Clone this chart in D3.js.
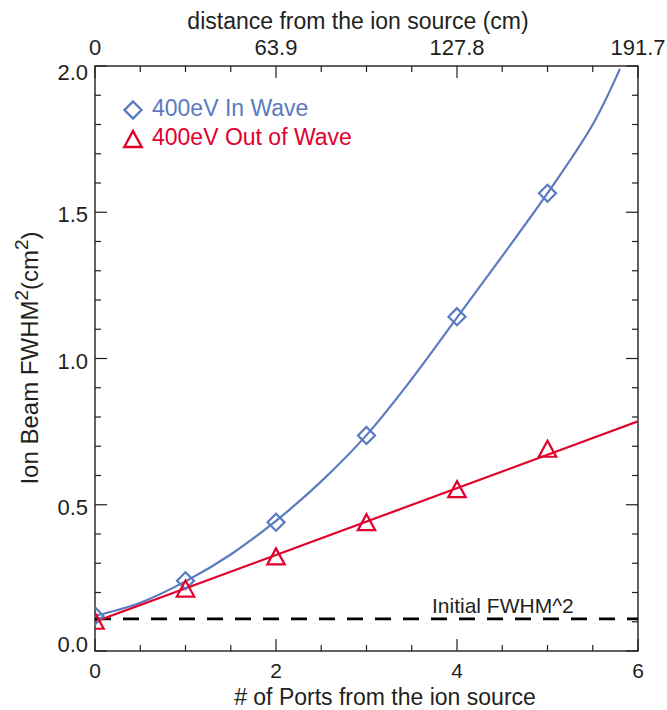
<!DOCTYPE html>
<html><head><meta charset="utf-8">
<script src="https://cdn.jsdelivr.net/npm/d3@7"></script>
<style>body{margin:0;background:#fff}text{font-family:"Liberation Sans",Arial,sans-serif;fill:#231f20}</style>
</head><body><svg id="c" width="667" height="710"></svg>
<script>
const ports = [0, 1, 2, 3, 4, 5];
const inWave = [0.12, 0.24, 0.44, 0.737, 1.143, 1.565];
const outWave = [0.10, 0.21, 0.32, 0.437, 0.55, 0.688];
const fitInX = [0, 0.5, 1, 1.5, 2, 2.5, 3, 3.5, 4, 4.5, 5, 5.5, 5.8];
const fitInY = [0.12, 0.165, 0.238, 0.33, 0.445, 0.58, 0.738, 0.93, 1.14, 1.35, 1.565, 1.8, 1.99];
const fitOutX = [0, 6];
const fitOutY = [0.10, 0.785];
const initial = 0.11;
const bottomTicks = [0, 2, 4, 6];
const topTickLabels = ["0", "63.9", "127.8", "191.7"];
const yTicks = [0.0, 0.5, 1.0, 1.5, 2.0];
const blue = "#5a7bc0", red = "#e2002c";

const svg = d3.select("#c");
const L = 95, R = 638, T = 66, B = 651;
const x = d3.scaleLinear().domain([0, 6]).range([L, R]);
const y = d3.scaleLinear().domain([0, 2]).range([B, T]);

svg.append("defs").append("clipPath").attr("id", "clip")
  .append("rect").attr("x", L).attr("y", T).attr("width", R - L).attr("height", B - T);

svg.append("rect").attr("x", L).attr("y", T).attr("width", R - L).attr("height", B - T)
  .attr("fill", "none").attr("stroke", "#231f20").attr("stroke-width", 1.4);

const tk = svg.append("g").attr("stroke", "#231f20").attr("stroke-width", 1.2);
d3.range(0, 6.01, 0.5).forEach(v => {
  const major = Math.abs(v % 2) < 1e-6;
  const len = major ? 12 : 6;
  tk.append("line").attr("x1", x(v)).attr("x2", x(v)).attr("y1", B).attr("y2", B - len);
  tk.append("line").attr("x1", x(v)).attr("x2", x(v)).attr("y1", T).attr("y2", T + len);
});
d3.range(0, 2.001, 0.1).forEach(v => {
  const r = Math.round(v * 10) % 5;
  const len = r === 0 ? 12 : 6;
  tk.append("line").attr("y1", y(v)).attr("y2", y(v)).attr("x1", L).attr("x2", L + len);
  tk.append("line").attr("y1", y(v)).attr("y2", y(v)).attr("x1", R).attr("x2", R - len);
});

svg.selectAll(".bl").data(bottomTicks).enter().append("text")
  .attr("x", d => x(d)).attr("y", B + 27).attr("text-anchor", "middle")
  .attr("font-size", 21).text(d => d);
svg.selectAll(".tl").data(bottomTicks).enter().append("text")
  .attr("x", d => x(d)).attr("y", T - 11).attr("text-anchor", "middle")
  .attr("font-size", 22).text((d, i) => topTickLabels[i]);
svg.selectAll(".yl").data(yTicks).enter().append("text")
  .attr("x", L - 7)
  .attr("y", d => y(d) + (d === 0 ? 1 : d === 2 ? 14 : 10))
  .attr("text-anchor", "end")
  .attr("font-size", 22).text(d => d.toFixed(1));

svg.append("text").attr("x", 358).attr("y", 29).attr("text-anchor", "middle")
  .attr("font-size", 23).text("distance from the ion source (cm)");
svg.append("text").attr("x", 385).attr("y", 705).attr("text-anchor", "middle")
  .attr("font-size", 23).text("# of Ports from the ion source");
const yt = svg.append("text").attr("transform", "translate(38,358) rotate(-90)")
  .attr("text-anchor", "middle").attr("font-size", 24);
yt.append("tspan").text("Ion Beam FWHM");
yt.append("tspan").attr("dy", -10).attr("font-size", 19).text("2");
yt.append("tspan").attr("dy", 10).text("(cm");
yt.append("tspan").attr("dy", -10).attr("font-size", 19).text("2");
yt.append("tspan").attr("dy", 10).text(")");

const g = svg.append("g").attr("clip-path", "url(#clip)");
g.append("line").attr("x1", L).attr("x2", R).attr("y1", y(initial)).attr("y2", y(initial))
  .attr("stroke", "#000").attr("stroke-width", 2.8).attr("stroke-dasharray", "16,12");
svg.append("text").attr("x", 432).attr("y", 613).attr("font-size", 21).text("Initial FWHM^2");

const line = d3.line().curve(d3.curveCatmullRom);
g.append("path").attr("d", line(fitInX.map((v, i) => [x(v), y(fitInY[i])])))
  .attr("fill", "none").attr("stroke", blue).attr("stroke-width", 2.2);
g.append("path").attr("d", d3.line()(fitOutX.map((v, i) => [x(v), y(fitOutY[i])])))
  .attr("fill", "none").attr("stroke", red).attr("stroke-width", 2.2);

const diamond = "M0,-8.5L8.5,0L0,8.5L-8.5,0Z";
const tri = "M0,-9L8.7,7L-8.7,7Z";
g.selectAll(".dm").data(ports).enter().append("path")
  .attr("transform", (d, i) => `translate(${x(d)},${y(inWave[i])})`)
  .attr("d", diamond).attr("fill", "none").attr("stroke", blue).attr("stroke-width", 2.2);
g.selectAll(".tr").data(ports).enter().append("path")
  .attr("transform", (d, i) => `translate(${x(d)},${y(outWave[i])})`)
  .attr("d", tri).attr("fill", "none").attr("stroke", red).attr("stroke-width", 2.2);

svg.append("path").attr("transform", "translate(133,110)").attr("d", diamond)
  .attr("fill", "none").attr("stroke", blue).attr("stroke-width", 2.4);
svg.append("text").attr("x", 152).attr("y", 116).attr("font-size", 23)
  .style("fill", blue).text("400eV In Wave");
svg.append("path").attr("transform", "translate(133,140)").attr("d", tri)
  .attr("fill", "none").attr("stroke", red).attr("stroke-width", 2.4);
svg.append("text").attr("x", 152).attr("y", 145).attr("font-size", 23)
  .style("fill", red).text("400eV Out of Wave");
</script></body></html>
